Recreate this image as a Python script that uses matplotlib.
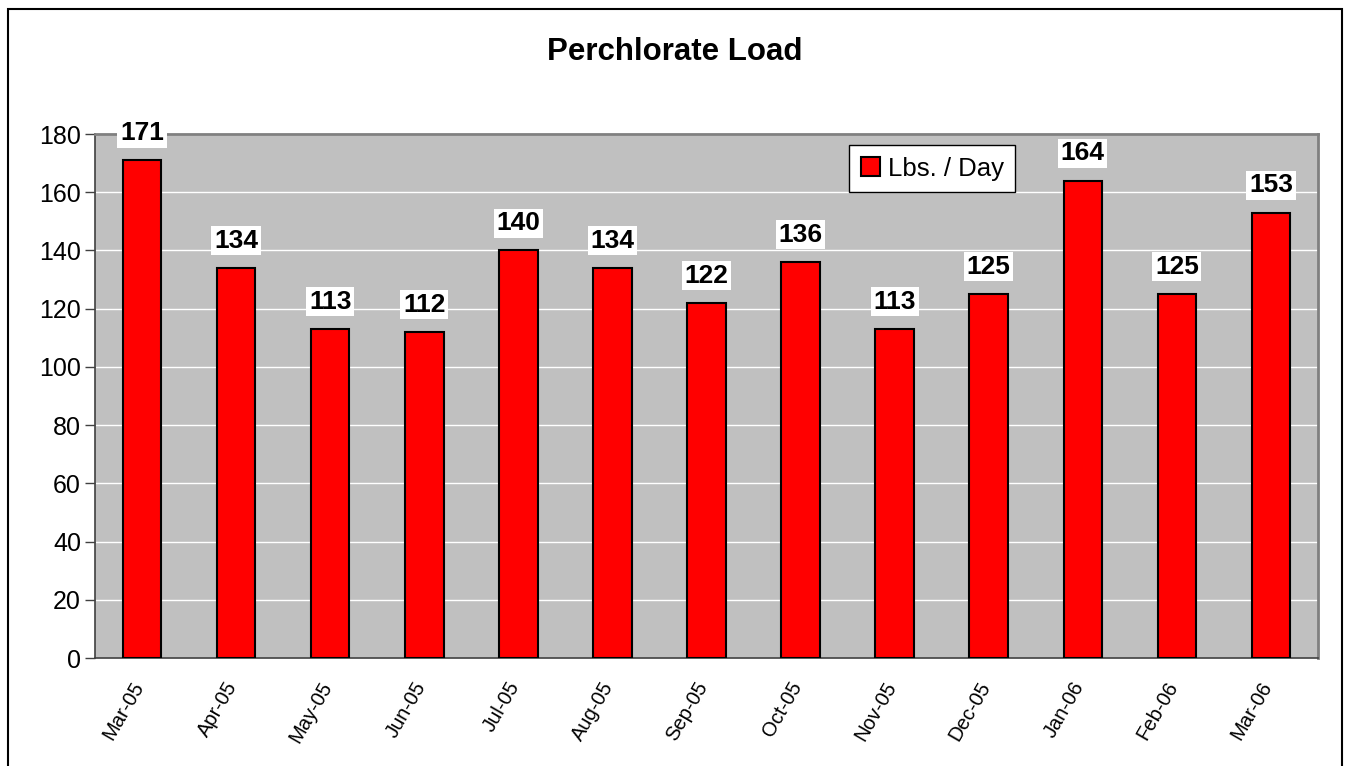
import matplotlib
matplotlib.use("Agg")
import matplotlib.pyplot as plt
from matplotlib.patches import Rectangle
import matplotlib.transforms as mtransforms

months = ["Mar-05", "Apr-05", "May-05", "Jun-05", "Jul-05", "Aug-05", "Sep-05",
          "Oct-05", "Nov-05", "Dec-05", "Jan-06", "Feb-06", "Mar-06"]
lbs_per_day = [171, 134, 113, 112, 140, 134, 122, 136, 113, 125, 164, 125, 153]
yticks = [0, 20, 40, 60, 80, 100, 120, 140, 160, 180]

plt.rcParams['font.family'] = ['Liberation Sans', 'DejaVu Sans']

W, H = 1345, 766
fig = plt.figure(figsize=(W / 100, H / 100), dpi=100)
left, right, top, bottom = 95, 1318, 134, 658
ax = fig.add_axes([left / W, 1 - bottom / H, (right - left) / W, (bottom - top) / H])
ax.set_facecolor('#C0C0C0')

x = list(range(len(months)))
bars = ax.bar(x, lbs_per_day, width=0.41, color='#FF0000', edgecolor='black',
              linewidth=1.5, label='Lbs. / Day', zorder=3)
ax.set_xlim(-0.5, len(months) - 0.5)
ax.set_ylim(0, 180)
ax.set_yticks(yticks)
ax.set_yticklabels([str(t) for t in yticks], fontsize=18)
ax.yaxis.grid(True, color='white', linewidth=1, zorder=0)
ax.set_axisbelow(True)
ax.set_xticks(x)
ax.set_xticklabels(months, rotation=60, ha='right', va='center', rotation_mode='anchor', fontsize=14.5)
ax.tick_params(axis='x', length=0, pad=18)
ax.tick_params(axis='y', length=7, width=1, color='#404040', pad=3)
shift = mtransforms.ScaledTranslation(-3 / 100, 0, fig.dpi_scale_trans)
for lab in ax.get_xticklabels():
    lab.set_transform(lab.get_transform() + shift)

for s in ['top', 'right']:
    ax.spines[s].set_color('#808080')
    ax.spines[s].set_linewidth(2)
ax.spines['left'].set_color('#404040')
ax.spines['bottom'].set_color('#404040')
ax.spines['left'].set_linewidth(1.2)
ax.spines['bottom'].set_linewidth(1.2)

for xi, v in zip(x, lbs_per_day):
    ax.annotate(str(v), (xi, v), xytext=(0, 11), textcoords='offset points',
                ha='center', va='bottom', fontsize=19, fontweight='bold',
                bbox=dict(boxstyle='square,pad=0.1', facecolor='white', edgecolor='none'),
                zorder=5)

leg = ax.legend(loc='upper left', bbox_to_anchor=((849 - left) / (right - left), 1 - (145 - top) / (bottom - top)),
                fontsize=18.5, frameon=True, fancybox=False, handlelength=0.75, handleheight=0.75,
                handletextpad=0.3, borderpad=0.45, borderaxespad=0)
leg.get_frame().set_edgecolor('black')
leg.get_frame().set_linewidth(1)
leg.get_frame().set_alpha(1)

fig.text(0.5 + 2 / W, 1 - 52 / H, 'Perchlorate Load', ha='center', va='center',
         fontsize=22.5, fontweight='bold')

border = Rectangle((8 / W, -0.05), (1342 - 8) / W, 1 - 9 / H + 0.05, transform=fig.transFigure,
                   fill=False, edgecolor='black', linewidth=1.5, clip_on=False)
fig.patches.append(border)

fig.savefig('out.png', dpi=100)
